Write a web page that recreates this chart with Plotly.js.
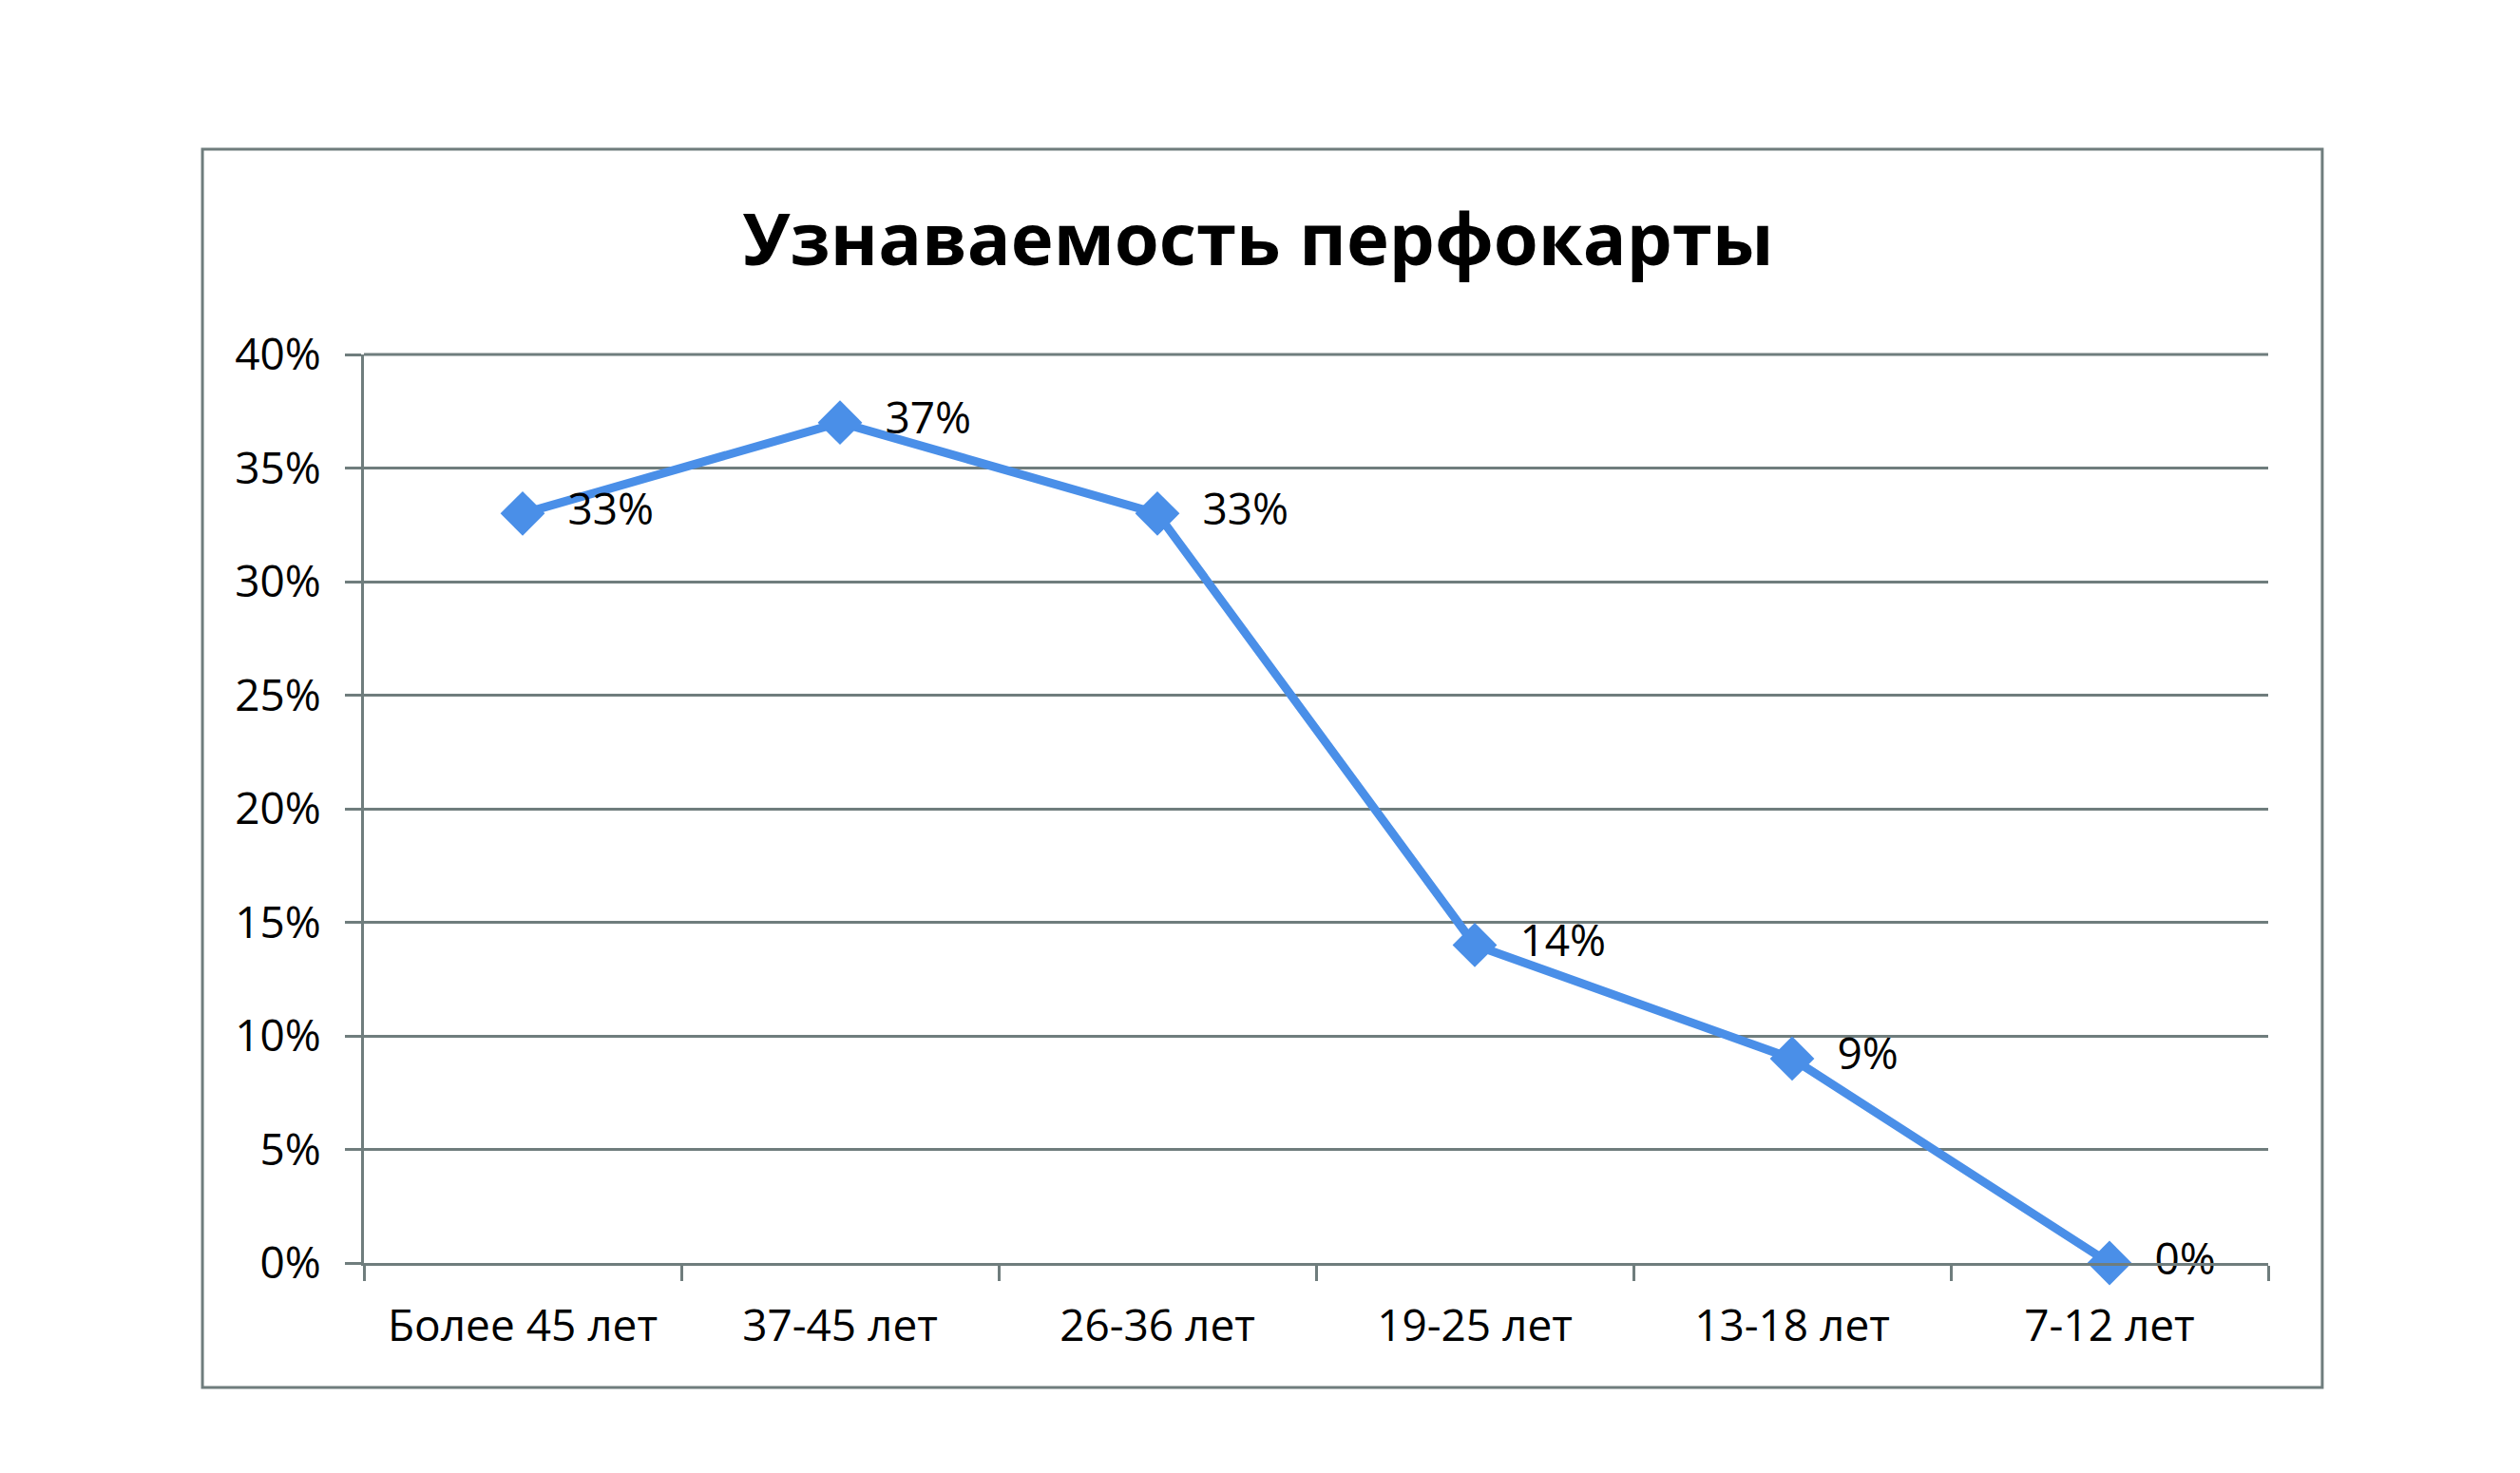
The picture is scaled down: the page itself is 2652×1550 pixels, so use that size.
<!DOCTYPE html>
<html>
<head>
<meta charset="utf-8">
<script src="https://cdn.plot.ly/plotly-3.0.1.min.js"></script>
<style>
html,body{margin:0;padding:0;background:#fff;}
#chart{width:2652px;height:1550px;}
</style>
</head>
<body>
<div id="chart"></div>
<script>
const chartTitle = "Узнаваемость перфокарты";
const categories = ["Более 45 лет", "37-45 лет", "26-36 лет", "19-25 лет", "13-18 лет", "7-12 лет"];
const values = [0.33, 0.37, 0.33, 0.14, 0.09, 0.00];
const valueLabels = ["33%", "37%", "33%", "14%", "9%", "0%"];
const yTickVals = [0, 0.05, 0.10, 0.15, 0.20, 0.25, 0.30, 0.35, 0.40];
const yTickText = ["0%", "5%", "10%", "15%", "20%", "25%", "30%", "35%", "40%"];
const yMax = 0.40;

const gray = "#6f7d7d";
const font = "Open Sans, Liberation Sans, sans-serif";

const trace = {
  type: "scatter",
  mode: "lines+markers+text",
  x: categories,
  y: values,
  text: valueLabels.map(t => "\u00a0\u00a0" + t),
  textposition: "middle right",
  textfont: {family: font, size: 46, color: "#000"},
  line: {color: "#4a8fe8", width: 9},
  marker: {symbol: "diamond", size: 36, color: "#4a8fe8"},
  hoverinfo: "skip",
  cliponaxis: false
};

const layout = {
  width: 2652, height: 1550,
  paper_bgcolor: "#fff", plot_bgcolor: "#fff",
  margin: {l: 383, r: 265, t: 373, b: 221, pad: 0},
  showlegend: false,
  title: {
    text: chartTitle,
    font: {family: font, size: 76, color: "#000", weight: "bold"},
    x: 0.4992, xanchor: "center", xref: "container",
    y: 0.8374, yanchor: "middle", yref: "container"
  },
  xaxis: {
    type: "category",
    range: [-0.5, categories.length - 0.5],
    tickson: "boundaries",
    ticks: "outside", ticklen: 16, tickwidth: 3, tickcolor: gray,
    showline: true, linecolor: gray, linewidth: 3,
    showgrid: false, zeroline: false,
    tickfont: {family: font, size: 46, color: "#000"},
    ticklabelstandoff: 24,
    fixedrange: true
  },
  yaxis: {
    range: [0, yMax],
    tickvals: yTickVals, ticktext: yTickText,
    ticks: "outside", ticklen: 17, tickwidth: 3, tickcolor: gray,
    showline: true, linecolor: gray, linewidth: 3,
    showgrid: true, gridcolor: gray, gridwidth: 3,
    zeroline: false,
    tickfont: {family: font, size: 46, color: "#000"},
    ticklabelstandoff: 16,
    fixedrange: true
  },
  shapes: [{
    type: "rect", xref: "paper", yref: "paper",
    x0: -0.0848, x1: 1.0284, y0: -0.137, y1: 1.226,
    line: {color: gray, width: 3}, fillcolor: "rgba(0,0,0,0)", layer: "below"
  }, {
    type: "line", xref: "paper", yref: "paper",
    x0: 0, x1: 1, y0: 1, y1: 1,
    line: {color: gray, width: 3}, layer: "below"
  }]
};

Plotly.newPlot("chart", [trace], layout, {staticPlot: true, displayModeBar: false});
</script>
</body>
</html>
